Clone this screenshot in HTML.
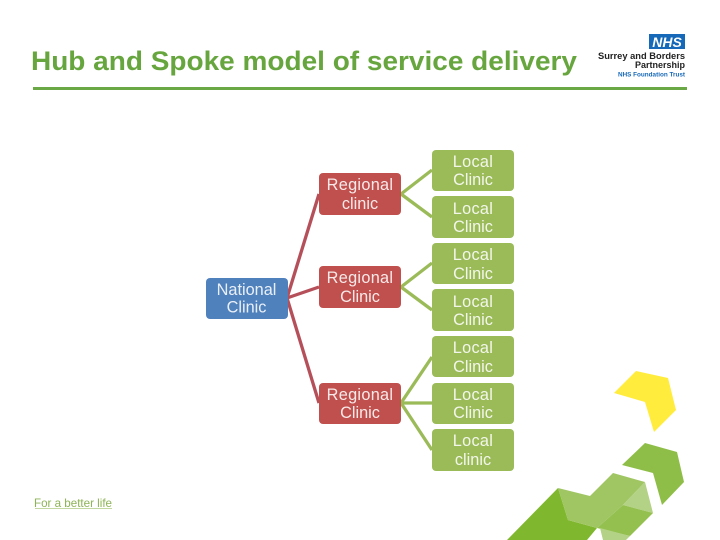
<!DOCTYPE html>
<html><head><meta charset="utf-8"><style>
html,body{margin:0;padding:0;background:#fff;width:720px;height:540px;overflow:hidden}
svg{display:block}
text{font-family:"Liberation Sans",sans-serif}
.n{fill:#fff;font-size:16.3px;text-anchor:middle;opacity:.88}
</style></head><body>
<svg width="720" height="540" viewBox="0 0 720 540" xmlns="http://www.w3.org/2000/svg">
<rect width="720" height="540" fill="#fff"/>
<text x="31" y="70" font-size="27" font-weight="bold" fill="#67a63f" textLength="546" lengthAdjust="spacingAndGlyphs">Hub and Spoke model of service delivery</text>
<rect x="33" y="87" width="654" height="3" fill="#6aa845"/>

<rect x="649" y="34" width="36" height="15" fill="#1668b8"/>
<text x="667" y="47" font-size="14" font-weight="bold" font-style="italic" fill="#fff" text-anchor="middle">NHS</text>
<text x="598" y="59" font-size="9" font-weight="bold" fill="#222" textLength="87" lengthAdjust="spacingAndGlyphs">Surrey and Borders</text>
<text x="685" y="68" font-size="9" font-weight="bold" fill="#222" text-anchor="end">Partnership</text>
<text x="618" y="76.500" font-size="6" font-weight="bold" fill="#1668b8" textLength="67" lengthAdjust="spacingAndGlyphs">NHS Foundation Trust</text>

<g stroke="#b5505a" stroke-width="3.300" fill="none">
<path d="M287 298L319 194M287 298L319 287M287 298L319 403"/>
</g>
<g stroke="#9bbb59" stroke-width="3.300" fill="none">
<path d="M401 194L432 170M401 194L432 217M401 287L432 263M401 287L432 310M401 403L432 357M401 403H432M401 403L432 450"/>
</g>

<rect x="206" y="278" width="82" height="41" rx="4" fill="#4f81bd"/>
<text class="n"><tspan x="246.500" y="295">National</tspan><tspan x="246.500" y="312.500">Clinic</tspan></text>

<g fill="#c0504d">
<rect x="319" y="173" width="82" height="42" rx="4"/>
<rect x="319" y="266" width="82" height="42" rx="4"/>
<rect x="319" y="383" width="82" height="41" rx="4"/>
</g>
<text class="n" x="360" y="190" letter-spacing=".3">Regional</text><text class="n" x="360" y="209">clinic</text>
<text class="n" x="360" y="283" letter-spacing=".3">Regional</text><text class="n" x="360" y="302">Clinic</text>
<text class="n" x="360" y="400" letter-spacing=".3">Regional</text><text class="n" x="360" y="418">Clinic</text>

<g fill="#9bbb59">
<rect x="432" y="150" width="82" height="41" rx="4"/>
<rect x="432" y="196" width="82" height="42" rx="4"/>
<rect x="432" y="243" width="82" height="41" rx="4"/>
<rect x="432" y="289" width="82" height="42" rx="4"/>
<rect x="432" y="336" width="82" height="41" rx="4"/>
<rect x="432" y="383" width="82" height="41" rx="4"/>
<rect x="432" y="429" width="82" height="42" rx="4"/>
</g>
<text class="n" x="473" y="167" letter-spacing=".3">Local</text><text class="n" x="473" y="185">Clinic</text>
<text class="n" x="473" y="214" letter-spacing=".3">Local</text><text class="n" x="473" y="232">Clinic</text>
<text class="n" x="473" y="260" letter-spacing=".3">Local</text><text class="n" x="473" y="279">Clinic</text>
<text class="n" x="473" y="307" letter-spacing=".3">Local</text><text class="n" x="473" y="325">Clinic</text>
<text class="n" x="473" y="353" letter-spacing=".3">Local</text><text class="n" x="473" y="372">Clinic</text>
<text class="n" x="473" y="400" letter-spacing=".3">Local</text><text class="n" x="473" y="418">Clinic</text>
<text class="n" x="473" y="446" letter-spacing=".3">Local</text><text class="n" x="473" y="465">clinic</text>

<polygon points="614,393 636,371 668,378 676,410 654,432 645,402" fill="#ffec3d"/>
<polygon points="622,465 645,443 677,452 684,482 662,505 653,473" fill="#8fbe48"/>
<polygon points="507,540 558,488 568,520 597,528 587,540" fill="#7fb82e"/>
<polygon points="558,488 590,496 613,473 645,482 623,505 597,528 568,520" fill="#a0c663"/>
<polygon points="623,505 645,482 653,513" fill="#b3d285"/>
<polygon points="623,505 653,513 630,536 597,528" fill="#93c04f"/>
<polygon points="600,528 630,536 626,540 603,540" fill="#b3d285"/>

<text x="34" y="507" font-size="12" fill="#8db356" textLength="78" lengthAdjust="spacingAndGlyphs">For a better life</text>
<rect x="35" y="508" width="77" height="1" fill="#c3d8a0"/>
</svg>
</body></html>
